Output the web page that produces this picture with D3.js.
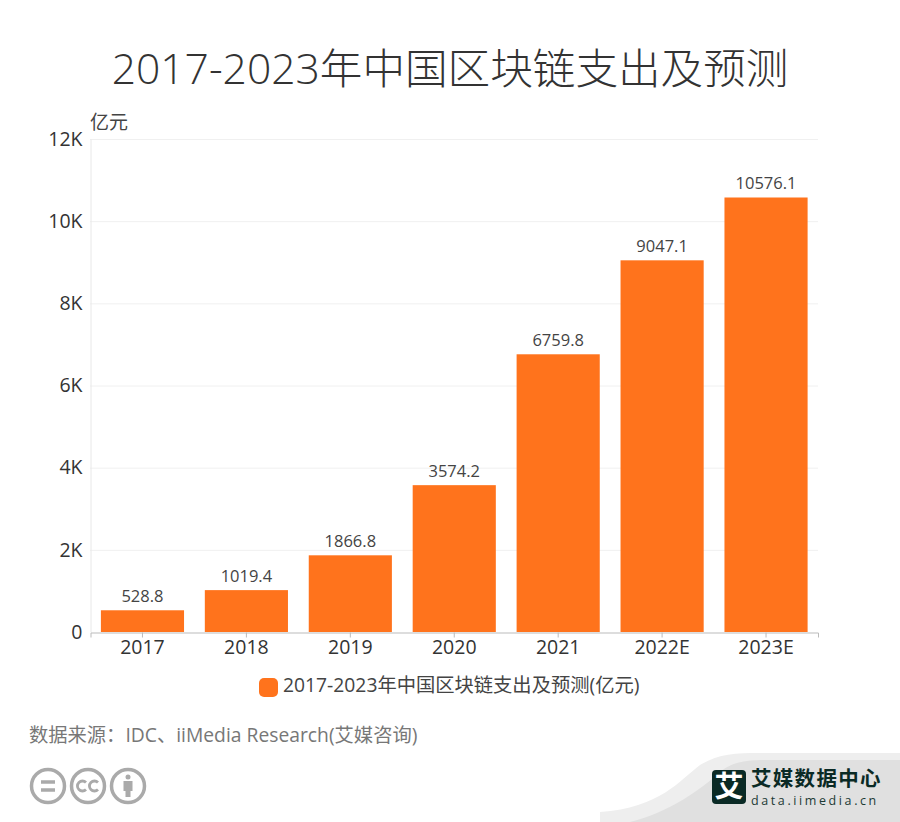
<!DOCTYPE html>
<html>
<head>
<meta charset="utf-8">
<title>2017-2023年中国区块链支出及预测</title>
<script src="https://cdn.jsdelivr.net/npm/d3@7/dist/d3.min.js"></script>
<style>
  html, body { margin: 0; padding: 0; background: #fff; }
  svg { display: block; }
  text { font-family: "Open Sans", "Noto Sans CJK SC", sans-serif; }
</style>
</head>
<body>
<div id="chart"></div>
<script>
var TITLE = '2017-2023年中国区块链支出及预测';
var UNIT = '亿元';
var LEGEND = '2017-2023年中国区块链支出及预测(亿元)';
var SOURCE = '数据来源：IDC、iiMedia Research(艾媒咨询)';

var years = ['2017', '2018', '2019', '2020', '2021', '2022E', '2023E'];
var spending = [528.8, 1019.4, 1866.8, 3574.2, 6759.8, 9047.1, 10576.1];
var yTicks = [0, 2000, 4000, 6000, 8000, 10000, 12000];

var width = 900, height = 822;
var svg = d3.select('#chart').append('svg')
  .attr('width', width)
  .attr('height', height);

var x = d3.scaleBand().domain(years).range([90.5, 818]).paddingInner(0.2).paddingOuter(0.1);
var y = d3.scaleLinear().domain([0, 12000]).range([632, 139]);

// title
svg.append('text')
  .attr('x', 450).attr('y', 84)
  .attr('text-anchor', 'middle')
  .attr('font-size', 42.6)
  .attr('font-weight', 300)
  .attr('fill', '#333')
  .text(TITLE);

// unit
svg.append('text')
  .attr('x', 90).attr('y', 129)
  .attr('font-size', 19)
  .attr('fill', '#444')
  .text(UNIT);

// grid
svg.append('g')
  .selectAll('line')
  .data(yTicks.slice(1))
  .join('line')
  .attr('x1', 90).attr('x2', 818)
  .attr('y1', function (d) { return y(d) + 0.5; })
  .attr('y2', function (d) { return y(d) + 0.5; })
  .attr('stroke', '#f0f0f0');

// y axis
var yAxis = svg.append('g')
  .attr('transform', 'translate(90.5,0)')
  .call(d3.axisLeft(y).tickValues(yTicks).tickSize(0).tickPadding(8)
    .tickFormat(function (d) { return d === 0 ? '0' : (d / 1000) + 'K'; }));
yAxis.select('.domain').attr('stroke', '#e8e8e8');
yAxis.selectAll('text').attr('font-size', 19.5).attr('fill', '#333');

// bars
svg.append('g')
  .selectAll('rect')
  .data(spending)
  .join('rect')
  .attr('x', function (d, i) { return x(years[i]); })
  .attr('y', function (d) { return y(d); })
  .attr('width', x.bandwidth())
  .attr('height', function (d) { return y(0) - y(d); })
  .attr('fill', '#ff731c');

// bar labels
svg.append('g')
  .selectAll('text')
  .data(spending)
  .join('text')
  .attr('x', function (d, i) { return x(years[i]) + x.bandwidth() / 2; })
  .attr('y', function (d) { return y(d) - 8; })
  .attr('text-anchor', 'middle')
  .attr('font-size', 16.5)
  .attr('fill', '#444')
  .text(function (d) { return d.toFixed(1); });

// x axis
var xAxis = svg.append('g')
  .attr('transform', 'translate(0,632.5)')
  .call(d3.axisBottom(x).tickSize(5).tickPadding(3));
xAxis.select('.domain').attr('stroke', '#bbb');
xAxis.selectAll('line').attr('stroke', '#bbb');
xAxis.selectAll('text').attr('font-size', 19.5).attr('fill', '#333');

// legend
svg.append('rect')
  .attr('x', 259).attr('y', 678)
  .attr('width', 19).attr('height', 19).attr('rx', 5)
  .attr('fill', '#ff731c');
svg.append('text')
  .attr('x', 283).attr('y', 692)
  .attr('font-size', 19.3)
  .attr('fill', '#444')
  .text(LEGEND);

// source
svg.append('text')
  .attr('x', 29).attr('y', 742)
  .attr('font-size', 19.3)
  .attr('fill', '#777')
  .text(SOURCE);

// licence badges
var badges = svg.append('g').attr('fill', 'none').attr('stroke', '#aaa').attr('stroke-width', 3.5);
[48, 88, 128].forEach(function (cx) {
  badges.append('circle').attr('cx', cx).attr('cy', 786).attr('r', 16.5);
});
badges.append('path').attr('d', 'M41 782H55M41 790H55');
badges.append('path').attr('stroke-width', 2.8)
  .attr('d', 'M86 782.5A5 5 0 1 0 86 789.5M98 782.5A5 5 0 1 0 98 789.5');
badges.append('circle').attr('cx', 128).attr('cy', 777).attr('r', 2.5).attr('fill', '#aaa').attr('stroke', 'none');
badges.append('path').attr('fill', '#aaa').attr('stroke', 'none')
  .attr('d', 'M123.5 781H132.5V791H130.5V797H125.5V791H123.5Z');

// corner logo background
svg.append('path').attr('fill', '#eeeeee')
  .attr('d', 'M600 812C660 808 680 780 700 765C718 754 735 753 760 753H900V822H600Z');
svg.append('path').attr('fill', '#e0e0e0')
  .attr('d', 'M630 822C670 812 700 790 720 772C732 762 745 760 770 760H900V822Z');
svg.append('rect').attr('x', 712).attr('y', 770)
  .attr('width', 34).attr('height', 34).attr('rx', 4).attr('fill', '#0a2a25');
svg.append('text').attr('x', 729).attr('y', 797)
  .attr('text-anchor', 'middle').attr('font-size', 29).attr('font-weight', 700)
  .attr('fill', '#fff').text('艾');
svg.append('text').attr('x', 751).attr('y', 785.5)
  .attr('font-size', 20.5).attr('font-weight', 700).attr('letter-spacing', 1.3)
  .attr('fill', '#0a2a25').text('艾媒数据中心');
svg.append('text').attr('x', 751).attr('y', 805)
  .attr('font-size', 12.5).attr('letter-spacing', 2.6)
  .attr('fill', '#1d3a35').text('data.iimedia.cn');
</script>
</body>
</html>
